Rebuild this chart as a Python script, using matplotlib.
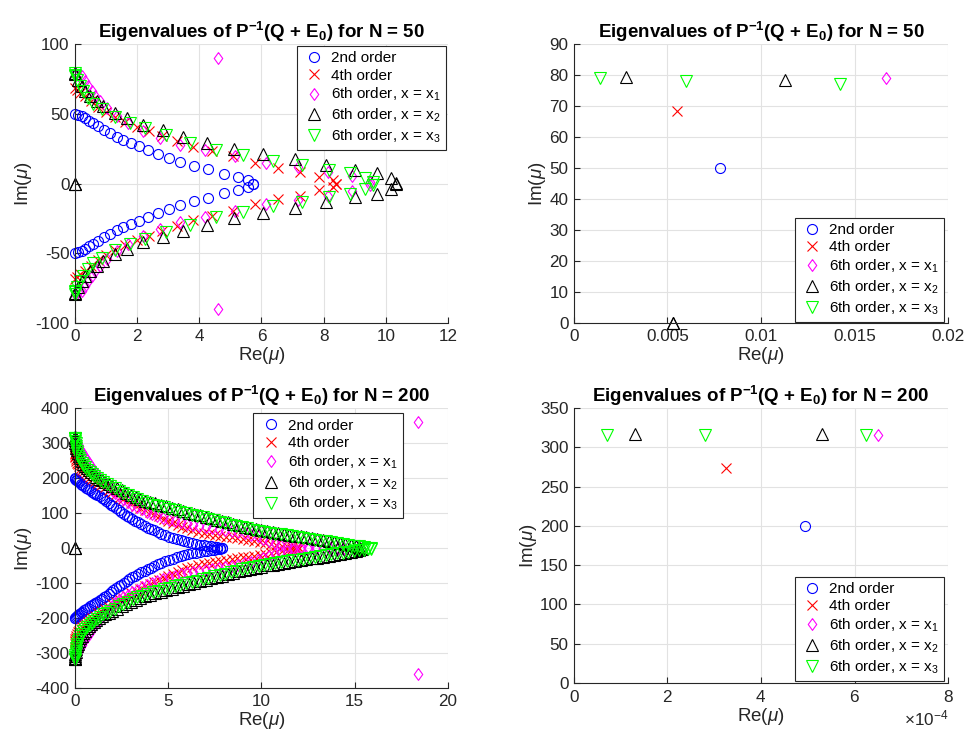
import matplotlib
matplotlib.use('Agg')
import matplotlib.pyplot as plt
from matplotlib.ticker import MultipleLocator, FuncFormatter

plt.rcParams['font.family'] = ['Liberation Sans', 'DejaVu Sans']
plt.rcParams['mathtext.fontset'] = 'custom'
plt.rcParams['mathtext.rm'] = 'Liberation Sans'
plt.rcParams['mathtext.it'] = 'Liberation Sans:italic'
plt.rcParams['mathtext.bf'] = 'Liberation Sans:bold'
plt.rcParams['axes.unicode_minus'] = False

# eigenvalues (Re, Im), upper half plane only;
# the lower half is the complex conjugate
blue50 = [(0.0078, 50), (0.11, 49.3), (0.21, 48.1), (0.32, 46.7), (0.45, 45), (0.59, 43.4),
          (0.75, 40.9), (0.94, 38.5), (1.13, 36.2), (1.34, 33.3), (1.55, 30.9), (1.80, 29),
          (2.06, 26.6), (2.36, 24.2), (2.66, 21.3), (3.02, 18.4), (3.38, 15.6), (3.83, 12.7),
          (4.29, 10.3), (4.79, 7), (5.25, 4.5), (5.58, 2.6), (5.72, 0)]
red50 = [(0.0055, 68.5), (0.05, 67.3), (0.16, 64.9), (0.32, 62.5), (0.5, 59), (0.75, 55),
         (1.0, 51), (1.3, 47.5), (1.6, 44), (1.98, 40.7), (2.37, 37.8), (2.8, 34), (3.27, 30.2),
         (3.81, 26.1), (4.40, 23), (5.09, 19.4), (5.79, 15), (6.54, 11.1), (7.24, 8.6),
         (7.86, 5.0), (8.29, 2.2), (8.40, 0)]
magenta50 = [(0.0167, 79), (0.1, 78), (0.21, 76.8), (0.32, 73.2), (0.43, 69.6), (0.54, 66),
             (0.64, 62.5), (0.80, 58.9), (1.02, 54.1), (1.34, 48.1), (1.72, 43.4), (2.2, 37.5),
             (2.72, 32.5), (3.38, 27.8), (4.19, 23.7), (5.15, 19.8), (6.13, 14.8), (7.19, 11.5),
             (8.15, 8.6), (8.9, 5.5), (9.5, 1.4), (4.6, 90)]
black50 = [(0.0028, 79.5), (0.0113, 78.5), (0.11, 74.4), (0.21, 69.6), (0.32, 66), (0.48, 62.5),
           (0.70, 58.9), (0.91, 55.3), (1.29, 50.5), (1.68, 46.9), (2.2, 42.1), (2.82, 38.5),
           (3.46, 33.7), (4.24, 29.4), (5.13, 24.9), (6.06, 21), (7.07, 17.5), (8.09, 13.4),
           (9.0, 9.8), (9.73, 7.2), (10.16, 3.6), (10.34, 0.7), (0.0053, 0)]
green50 = [(0.0014, 79), (0.006, 78), (0.0142, 77), (0.06, 74), (0.15, 70), (0.27, 66),
           (0.42, 61), (0.59, 57), (0.86, 53.5), (1.29, 47.5), (1.77, 43.4), (2.25, 39.5),
           (2.92, 34.5), (3.70, 29.4), (4.54, 24.2), (5.42, 20.6), (6.38, 16), (7.29, 13.4),
           (8.17, 9.5), (8.85, 7.5), (9.33, 4), (9.6, 0.8)]

blue200 = [(0.000495, 200), (0.02, 198), (0.05, 196), (0.1, 194), (0.16, 191), (0.23, 188),
           (0.31, 185), (0.4, 181), (0.5, 177), (0.6, 173), (0.7, 170), (0.8, 166), (0.9, 162),
           (1.0, 159), (1.1, 155), (1.2, 152), (1.32, 148), (1.44, 144), (1.56, 140), (1.68, 135),
           (1.8, 130), (1.93, 125), (2.06, 120), (2.2, 114), (2.34, 109), (2.48, 104), (2.62, 99),
           (2.77, 93), (2.92, 88), (3.08, 83), (3.24, 78), (3.4, 74), (3.56, 69), (3.73, 64),
           (3.9, 59), (4.07, 55), (4.25, 51), (4.44, 46), (4.63, 42), (4.83, 37), (5.03, 33),
           (5.24, 30), (5.45, 26), (5.66, 23), (5.87, 20), (6.08, 17), (6.29, 14.5), (6.5, 12),
           (6.7, 10), (6.9, 8.4), (7.1, 6.8), (7.3, 5.2), (7.48, 3.8), (7.64, 2.5), (7.78, 1.3),
           (7.88, 0.3)]
red200 = [(0.000325, 273), (0.003, 269), (0.01, 265), (0.025, 260), (0.05, 255), (0.08, 250),
          (0.12, 245), (0.17, 240), (0.23, 235), (0.3, 230), (0.38, 225), (0.47, 220), (0.57, 215),
          (0.68, 210), (0.8, 204), (0.93, 198), (1.07, 192), (1.22, 186), (1.4, 180), (1.6, 174),
          (1.8, 167), (2.0, 160), (2.2, 154), (2.4, 147), (2.6, 141), (2.8, 135), (3.0, 129),
          (3.25, 122), (3.5, 115), (3.75, 109), (4.0, 103), (4.25, 97), (4.5, 91), (4.75, 85),
          (5.0, 79), (5.25, 73), (5.5, 67), (5.75, 62), (6.0, 57), (6.3, 52), (6.6, 48), (6.9, 45),
          (7.2, 42), (7.5, 39), (7.8, 36), (8.1, 33), (8.4, 31), (8.7, 28.5), (9.0, 26), (9.3, 23.5),
          (9.6, 21), (9.9, 18.5), (10.2, 15.5), (10.5, 12.5), (10.8, 9.5), (11.1, 7), (11.4, 4.5),
          (11.65, 2.8), (11.85, 1.5), (12.0, 0.5)]
magenta200 = [(0.00065, 316), (0.02, 312), (0.05, 308), (0.09, 303), (0.14, 297), (0.2, 291),
              (0.27, 284), (0.35, 276), (0.43, 268), (0.52, 260), (0.62, 252), (0.73, 244),
              (0.85, 236), (0.98, 224), (1.12, 214), (1.27, 204), (1.43, 194), (1.6, 184),
              (1.78, 175), (1.97, 166), (2.17, 157), (2.38, 148), (2.6, 140), (2.83, 132),
              (3.07, 125), (3.32, 118), (3.58, 111), (3.85, 104), (4.13, 98), (4.42, 92),
              (4.72, 87), (5.03, 82), (5.35, 78), (5.67, 74), (6.0, 70), (6.33, 67), (6.66, 64),
              (7.0, 61), (7.35, 58), (7.7, 55.5), (8.05, 53), (8.4, 50), (8.75, 47), (9.1, 43),
              (9.45, 39), (9.8, 34), (10.1, 28), (10.4, 21), (10.7, 15), (11.0, 10), (11.35, 6.5),
              (11.7, 4.5), (12.1, 3.5), (12.5, 3), (12.9, 2.5), (13.3, 2), (13.7, 1.6),
              (14.1, 1.2), (14.45, 0.7), (18.4, 360)]
black200 = [(0.00013, 317), (0.00053, 317), (0.003, 314), (0.01, 309), (0.025, 302), (0.045, 295),
            (0.07, 287), (0.1, 280), (0.15, 272), (0.2, 265), (0.27, 257), (0.35, 250), (0.45, 242),
            (0.55, 235), (0.65, 229), (0.75, 223), (0.87, 217), (1.0, 211), (1.15, 205), (1.3, 199),
            (1.45, 194), (1.62, 189), (1.8, 184), (2.0, 179), (2.25, 172), (2.5, 166), (2.75, 159),
            (3.0, 153), (3.25, 147), (3.5, 141), (3.75, 136), (4.0, 132), (4.3, 128), (4.6, 124),
            (4.9, 120), (5.2, 116), (5.5, 111), (5.8, 107), (6.1, 102), (6.4, 98), (6.7, 94),
            (7.0, 90), (7.3, 86), (7.6, 82), (7.9, 78), (8.2, 74), (8.5, 70), (8.8, 66), (9.1, 62),
            (9.4, 59), (9.7, 55), (10.0, 52), (10.3, 49), (10.6, 46.5), (10.9, 44), (11.2, 41.5),
            (11.5, 39), (11.8, 36.5), (12.1, 34), (12.4, 31.5), (12.7, 29), (13.0, 26.5),
            (13.3, 24), (13.6, 21.5), (13.9, 19), (14.2, 16), (14.5, 13), (14.8, 9.5),
            (15.05, 6.5), (15.25, 3.5), (15.4, 1), (0.0012, 0)]
green200 = [(0.00007, 315), (0.00028, 315), (0.000625, 315), (0.005, 311), (0.015, 306), (0.03, 300),
            (0.05, 293), (0.075, 286), (0.1, 279), (0.13, 272), (0.17, 265), (0.22, 258), (0.28, 251),
            (0.36, 244), (0.45, 237), (0.55, 231), (0.66, 225), (0.78, 219), (0.9, 213), (1.04, 207),
            (1.19, 201), (1.35, 195), (1.52, 189), (1.7, 184), (1.9, 178), (2.12, 172), (2.36, 165),
            (2.6, 159), (2.85, 152), (3.1, 146), (3.35, 140), (3.6, 135), (3.88, 130), (4.17, 125),
            (4.46, 121), (4.75, 117), (5.05, 113), (5.35, 108), (5.65, 104), (5.95, 100), (6.25, 96),
            (6.55, 92), (6.85, 88), (7.15, 84), (7.45, 80), (7.75, 76), (8.05, 72), (8.35, 68),
            (8.65, 64), (8.95, 60), (9.25, 57), (9.55, 53.5), (9.85, 50), (10.15, 47), (10.45, 44.5),
            (10.75, 42), (11.05, 39.5), (11.35, 37), (11.65, 34.5), (11.95, 32), (12.25, 29.5),
            (12.55, 27), (12.85, 24.5), (13.15, 22), (13.45, 19.5), (13.75, 17), (14.05, 14.5),
            (14.35, 12), (14.65, 9.5), (14.95, 7.5), (15.25, 5.5), (15.5, 3.5), (15.7, 2),
            (15.85, 0.6)]

labels = ['2nd order', '4th order', '6th order, x = x$_1$', '6th order, x = x$_2$',
          '6th order, x = x$_3$']
colors = ['#0000ff', '#ff0000', '#ff00ff', '#000000', '#00ff00']
diamond = [(0, 1), (0.72, 0), (0, -1), (-0.72, 0), (0, 1)]
markers = ['o', 'x', diamond, '^', 'v']
sizes = [7.2, 6.5, 8.5, 8, 8]

dark = '#262626'
fig = plt.figure(figsize=(9.65, 7.3), dpi=100)


def both_halves(pts, xlim, ylim):
    re, im = [], []
    for r, i in pts:
        for v in (i, -i):
            if xlim[0] <= r <= xlim[1] and ylim[0] <= v <= ylim[1]:
                re.append(r)
                im.append(v)
    return re, im


def panel(rect, series, n, xlim, ylim, xstep, ystep, leg_loc, leg_anchor):
    ax = fig.add_axes(rect)
    for pts, lab, c, m, s in zip(series, labels, colors, markers, sizes):
        re, im = both_halves(pts, xlim, ylim)
        ax.plot(re, im, linestyle='none', marker=m, ms=s, mfc='none', mec=c, mew=0.8,
                clip_on=False, label=lab)
    ax.set_xlim(xlim)
    ax.set_ylim(ylim)
    ax.xaxis.set_major_locator(MultipleLocator(xstep))
    ax.yaxis.set_major_locator(MultipleLocator(ystep))
    ax.grid(True, color='#e2e2e2', lw=0.8)
    ax.set_axisbelow(True)
    for side in ['top', 'right']:
        ax.spines[side].set_visible(False)
    for side in ['left', 'bottom']:
        ax.spines[side].set_color(dark)
        ax.spines[side].set_linewidth(0.8)
    ax.tick_params(direction='in', length=4, width=0.8, color=dark, labelcolor=dark,
                   labelsize=12.3, pad=4)
    ax.set_title(r'Eigenvalues of P$^{\mathbf{-1}}$(Q + E$_{\mathbf{0}}$) for N = %d' % n,
                 fontsize=13.5, fontweight='bold', pad=4)
    ax.set_xlabel(r'Re($\mu$)', fontsize=13.5, color=dark, labelpad=1)
    ax.set_ylabel(r'Im($\mu$)', fontsize=13.5, color=dark, labelpad=1)
    leg = ax.legend(loc=leg_loc, bbox_to_anchor=leg_anchor, borderaxespad=0, fontsize=11,
                    fancybox=False, edgecolor=dark, framealpha=1, handlelength=1.6,
                    handletextpad=0.3, borderpad=0.35, labelspacing=0.22)
    leg.get_frame().set_linewidth(0.8)
    return ax


s50 = [blue50, red50, magenta50, black50, green50]
s200 = [blue200, red200, magenta200, black200, green200]

panel([0.0777, 0.5575, 0.3865, 0.3822], s50, 50, (0, 12), (-100, 100), 2, 50,
      'upper right', (0.995, 0.993))
ax2 = panel([0.5948, 0.5575, 0.3876, 0.3822], s50, 50, (0, 0.02), (0, 90), 0.005, 10,
            'lower right', (0.989, 0.004))
ax2.xaxis.set_major_formatter(FuncFormatter(lambda v, p: '%g' % v))
panel([0.0777, 0.0571, 0.3865, 0.3836], s200, 200, (0, 20), (-400, 400), 5, 100,
      'upper right', (0.879, 0.982))
ax4 = panel([0.5948, 0.0644, 0.3876, 0.3767], s200, 200, (0, 8e-4), (0, 350), 2e-4, 50,
            'lower right', (0.989, 0.007))
ax4.ticklabel_format(axis='x', style='sci', scilimits=(0, 0), useMathText=True)
ax4.xaxis.get_offset_text().set_fontsize(12.3)
ax4.xaxis.get_offset_text().set_color(dark)

fig.savefig('out.png', dpi=100)
